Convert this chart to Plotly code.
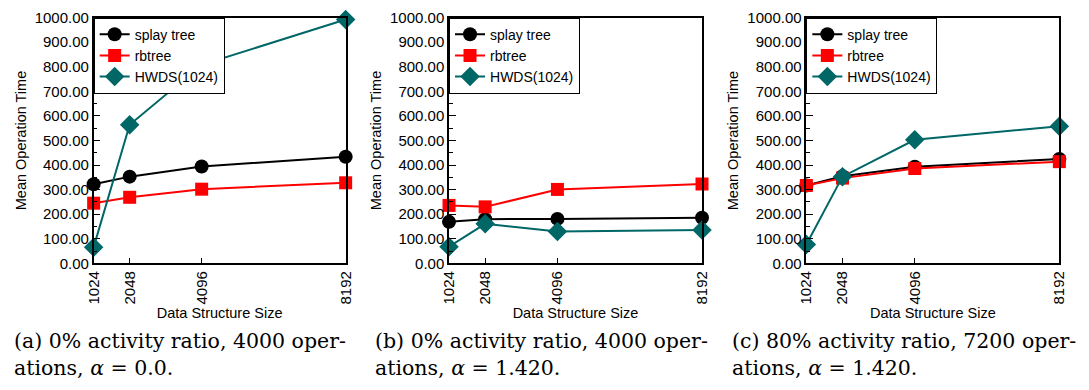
import plotly.graph_objects as go

sizes = [1024, 2048, 4096, 8192]
x_ticks = [1024, 2048, 4096, 8192]
series_names = ["splay tree", "rbtree", "HWDS(1024)"]

# panel (a)
a_splay = [322, 353, 394, 434]
a_rbtree = [245, 269, 302, 328]
a_hwds = [66, 564, 808, 992]
# panel (b)
b_splay = [169, 180, 181, 186]
b_rbtree = [236, 230, 301, 323]
b_hwds = [68, 161, 130, 136]
# panel (c)
c_splay = [317, 355, 393, 425]
c_rbtree = [317, 347, 386, 414]
c_hwds = [77, 353, 503, 558]

captions = [
    "(a) 0% activity ratio, 4000 oper-<br>ations, <i>α</i> = 0.0.",
    "(b) 0% activity ratio, 4000 oper-<br>ations, <i>α</i> = 1.420.",
    "(c) 80% activity ratio, 7200 oper-<br>ations, <i>α</i> = 1.420.",
]

panels = [
    (a_splay, a_rbtree, a_hwds),
    (b_splay, b_rbtree, b_hwds),
    (c_splay, c_rbtree, c_hwds),
]

W, H = 1089, 390
x_px = [(86, 342), (447, 704), (810, 1067)]
y_top, y_bot = 9, 266
caption_x = [3, 370, 732]

colors = ["#000000", "#ff0000", "#006666"]
symbols = ["circle", "square", "diamond"]
msizes = [14, 13, 15]

fig = go.Figure()
layout = dict(
    width=W, height=H,
    margin=dict(l=0, r=0, t=0, b=0),
    paper_bgcolor="white", plot_bgcolor="white",
    font=dict(family="Liberation Sans, Arial, sans-serif", size=15, color="black"),
    showlegend=True,
)

ydom = [1 - y_bot / H, 1 - y_top / H]
annotations = []
for i, data in enumerate(panels):
    suffix = "" if i == 0 else str(i + 1)
    xa = "x" + suffix
    ya = "y" + suffix
    leg = "legend" + suffix
    for j, vals in enumerate(data):
        fig.add_trace(go.Scatter(
            x=sizes, y=vals, mode="lines+markers", name=series_names[j],
            xaxis=xa, yaxis=ya, legend=leg,
            line=dict(color=colors[j], width=2),
            marker=dict(symbol=symbols[j], size=msizes[j], color=colors[j]),
            cliponaxis=False,
        ))
    x0, x1 = x_px[i]
    layout["xaxis" + suffix] = dict(
        domain=[x0 / W, x1 / W], anchor=ya,
        range=[1024, 8192], tickvals=x_ticks, ticktext=[str(v) for v in x_ticks],
        tickangle=-90, ticks="inside", ticklen=6, tickwidth=1, tickcolor="black",
        showline=True, linecolor="black", linewidth=1.5, mirror=True,
        showgrid=False, zeroline=False,
        tickfont=dict(size=15),
        title=dict(text="Data Structure Size", font=dict(size=14.5), standoff=2),
    )
    layout["yaxis" + suffix] = dict(
        domain=ydom, anchor=xa,
        range=[0, 1000], dtick=100, tick0=0, tickformat=".2f",
        ticks="inside", ticklen=7, tickwidth=1, tickcolor="black",
        minor=dict(dtick=50, ticks="inside", ticklen=4, tickwidth=1, tickcolor="black"),
        showline=True, linecolor="black", linewidth=1.5, mirror=True,
        showgrid=False, zeroline=False,
        tickfont=dict(size=15),
        title=dict(text="Mean Operation Time", font=dict(size=14.5), standoff=5),
    )
    layout[leg] = dict(
        x=x0 / W, y=ydom[1], xanchor="left", yanchor="top",
        xref="paper", yref="paper",
        bgcolor="white", bordercolor="black", borderwidth=1,
        font=dict(size=14), itemwidth=30, tracegroupgap=0,
    )
    annotations.append(dict(
        x=caption_x[i] / W, y=(H - 332) / H, xref="paper", yref="paper",
        xanchor="left", yanchor="top", align="left", showarrow=False,
        text=captions[i],
        font=dict(family="DejaVu Serif, serif", size=20.5, color="black"),
    ))

layout["annotations"] = annotations
fig.update_layout(**layout)
fig.write_html("out.html")
